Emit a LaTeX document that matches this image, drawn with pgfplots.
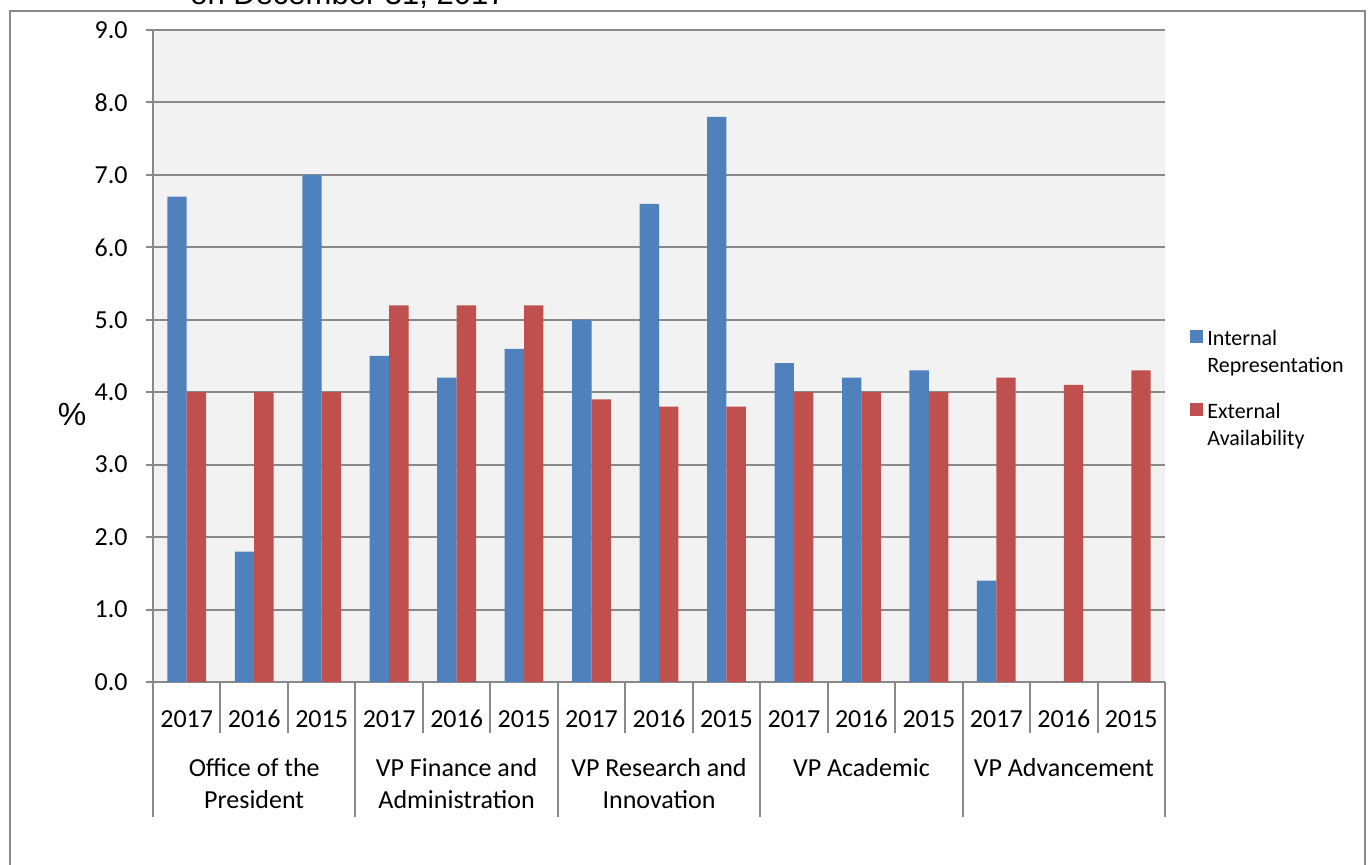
\documentclass[border=0pt]{standalone}
\usepackage{pgfplots}
\pgfplotsset{compat=1.18}
\usepackage{fontspec}
\setmainfont{Carlito}
\newfontfamily\arialf{Liberation Sans}
\definecolor{barblue}{HTML}{4F81BD}
\definecolor{barred}{HTML}{C0504D}
\definecolor{bgc}{HTML}{F2F2F2}
\definecolor{gridgray}{HTML}{898989}
\begin{document}
\begin{tikzpicture}
\path[use as bounding box] (0,0) rectangle (684pt,432.5pt);
\draw[gridgray, line width=1pt] (5pt,-10pt) -- (5pt,427pt) -- (682.5pt,427pt) -- (682.5pt,-10pt);
\node[anchor=base, font=\arialf\fontsize{15.5}{18}\selectfont] at (174pt,430pt) {on December 31, 2017};
\node[font=\arialf\fontsize{16}{18}\selectfont] at (36pt,225pt) {\%};
\begin{axis}[
  at={(76.5pt,91.5pt)}, anchor=south west,
  scale only axis, width=506pt, height=326pt,
  ybar=0pt, bar width=9.7pt,
  xmin=-0.5, xmax=14.5, ymin=0, ymax=9,
  xtick={0,...,14},
  xticklabels={2017,2016,2015,2017,2016,2015,2017,2016,2015,2017,2016,2015,2017,2016,2015},
  x tick label style={font=\fontsize{13}{15}\selectfont, anchor=center, yshift=-15pt, inner sep=0pt},
  ytick={0,...,9},
  yticklabel style={/pgf/number format/.cd, fixed, fixed zerofill, precision=1, /tikz/.cd},
  /pgf/number format/assume math mode=true,
  y tick label style={font=\fontsize{13}{15}\selectfont, anchor=east, inner sep=0pt, xshift=-9pt},
  axis x line*=bottom, axis y line*=left,
  axis line style={draw=gridgray, line width=1pt, -},
  x tick style={draw=none},
  y tick style={draw=gridgray, line width=1pt},
  ytick align=outside, major tick length=3.5pt,
  ymajorgrids, grid style={draw=gridgray, line width=1pt},
  axis background/.style={fill=bgc},
  clip=false,
  legend style={draw=none, fill=none, at={(1.0247,0.546)}, anchor=north west, inner sep=0pt,
    font=\fontsize{11}{13.5}\selectfont, row sep=23.5pt},
  legend cell align=left,
  legend image code/.code={\fill[#1] (0pt,-1.5pt) rectangle (6.5pt,5pt);},
]
\addplot[fill=barblue, draw=none] coordinates {(0,6.7) (1,1.8) (2,7.0) (3,4.5) (4,4.2) (5,4.6) (6,5.0) (7,6.6) (8,7.8) (9,4.4) (10,4.2) (11,4.3) (12,1.4)};
\addlegendentry{\vtop{\baselineskip=13.5pt\hbox{Internal}\hbox{Representation}}}
\addplot[fill=barred, draw=none] coordinates {(0,4.0) (1,4.0) (2,4.0) (3,5.2) (4,5.2) (5,5.2) (6,3.9) (7,3.8) (8,3.8) (9,4.0) (10,4.0) (11,4.0) (12,4.2) (13,4.1) (14,4.3)};
\addlegendentry{\vtop{\baselineskip=13.5pt\hbox{External}\hbox{Availability}}}
\pgfplotsinvokeforeach{0.5,1.5,3.5,4.5,6.5,7.5,9.5,10.5,12.5,13.5}{
  \draw[gridgray, line width=1pt] (axis cs:#1,0) -- ([yshift=-25.5pt]axis cs:#1,0);
}
\pgfplotsinvokeforeach{-0.5,2.5,5.5,8.5,11.5,14.5}{
  \draw[gridgray, line width=1pt] (axis cs:#1,0) -- ([yshift=-67.5pt]axis cs:#1,0);
}
\begin{scope}[font=\fontsize{13}{16}\selectfont]
\node[align=center, inner sep=0pt] at ([yshift=-51pt]axis cs:1,0) {Office of the\\President};
\node[align=center, inner sep=0pt] at ([yshift=-51pt]axis cs:4,0) {VP Finance and\\Administration};
\node[align=center, inner sep=0pt] at ([yshift=-51pt]axis cs:7,0) {VP Research and\\Innovation};
\node[inner sep=0pt] at ([yshift=-43pt]axis cs:10,0) {VP Academic};
\node[inner sep=0pt] at ([yshift=-43pt]axis cs:13,0) {VP Advancement};
\end{scope}
\end{axis}
\end{tikzpicture}
\end{document}
